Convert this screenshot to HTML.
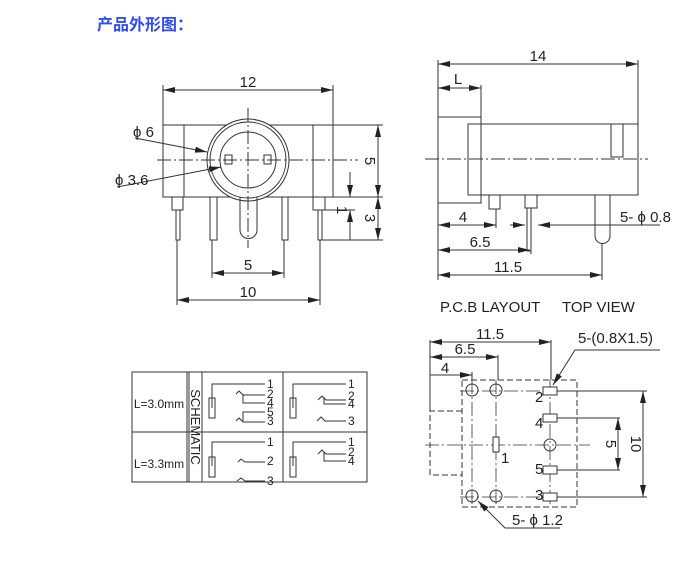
<!DOCTYPE html>
<html><head><meta charset="utf-8"><style>
body{margin:0;background:#fff;width:700px;height:572px;overflow:hidden}
svg{position:absolute;left:0;top:0}
text{font-family:"Liberation Sans",sans-serif;fill:#222}
</style></head><body>
<svg width="700" height="572" viewBox="0 0 700 572">
<defs>
<marker id="a" viewBox="0 0 12 6" refX="12" refY="3" markerWidth="12" markerHeight="6" markerUnits="userSpaceOnUse" orient="auto-start-reverse"><path d="M0,0L12,3L0,6z" fill="#222"/></marker>
</defs>
<text x="97" y="30" style="font-family:'Liberation Sans','Noto Sans CJK SC',sans-serif;font-size:16px;font-weight:bold;fill:#2f4cf0">产品外形图：</text>
<g stroke="#333" stroke-width="1" fill="none">
<rect x="163" y="125" width="170" height="72"/>
<line x1="184" y1="125" x2="184" y2="197"/><line x1="313" y1="125" x2="313" y2="197"/>
<circle cx="248" cy="160" r="41" fill="#fff"/><circle cx="248" cy="160" r="38"/><circle cx="248" cy="160" r="28"/>
<rect x="225" y="155" width="7" height="9"/><rect x="264" y="155" width="7" height="9"/>
<rect x="172" y="197" width="11" height="13"/><rect x="176" y="210" width="4" height="30"/>
<rect x="210" y="197" width="7" height="43"/><rect x="282" y="197" width="6" height="43"/>
<path d="M240,197V230a8.5,8.5 0 0 0 17,0V197"/>
<rect x="313" y="197" width="12" height="13"/><rect x="318" y="210" width="4" height="30"/>
<path d="M157,160H358M248,108V248" stroke-dasharray="14,3,2,3"/>
<path d="M163,125V85M333,125V85M333,125H383M333,197H383M322,240H383M325,210H355M212,240V278M284,240V278M177,240V305M320,240V305"/>
<line x1="163" y1="90" x2="333" y2="90" marker-start="url(#a)" marker-end="url(#a)"/>
<line x1="212" y1="273" x2="284" y2="273" marker-start="url(#a)" marker-end="url(#a)"/>
<line x1="177" y1="300" x2="320" y2="300" marker-start="url(#a)" marker-end="url(#a)"/>
<line x1="378" y1="125" x2="378" y2="197" marker-start="url(#a)" marker-end="url(#a)"/>
<line x1="378" y1="197" x2="378" y2="240" marker-start="url(#a)" marker-end="url(#a)"/>
<line x1="350" y1="172" x2="350" y2="197" marker-end="url(#a)"/>
<line x1="350" y1="240" x2="350" y2="210" marker-end="url(#a)"/>
<path d="M135,138L207,152" marker-end="url(#a)"/>
<path d="M117,187L221,167" marker-end="url(#a)"/>
<rect x="438" y="117" width="43" height="86"/>
<rect x="468" y="124" width="170" height="71" fill="#fff"/>
<line x1="481" y1="124" x2="481" y2="195"/>
<rect x="611" y="124" width="12" height="33"/>
<path d="M425,159H648" stroke-dasharray="14,3,2,3"/>
<rect x="489" y="195" width="11" height="14"/><rect x="525" y="195" width="12" height="13"/><rect x="527" y="208" width="4" height="43"/>
<path d="M595,195V236a7.5,7.5 0 0 0 15,0V195"/>
<path d="M438,60V280M481,85V117M638,60V124M496,209V228M531,251V254M602,243V280"/>
<line x1="438" y1="64" x2="638" y2="64" marker-start="url(#a)" marker-end="url(#a)"/>
<line x1="438" y1="88" x2="481" y2="88" marker-start="url(#a)" marker-end="url(#a)"/>
<line x1="438" y1="225" x2="496" y2="225" marker-start="url(#a)" marker-end="url(#a)"/>
<line x1="438" y1="250" x2="530" y2="250" marker-start="url(#a)" marker-end="url(#a)"/>
<line x1="438" y1="275" x2="602" y2="275" marker-start="url(#a)" marker-end="url(#a)"/>
<line x1="510" y1="225" x2="525" y2="225" marker-end="url(#a)"/>
<line x1="660" y1="225" x2="538" y2="225" marker-end="url(#a)"/>
<rect x="132" y="372" width="235" height="110"/>
<path d="M187,372V482M189,372V482M202,372V482M283,372V482M132,432H367"/>
<path d="M212,408V384H265M236,394l3,-3l4,4H265M243,394V403H265M236,421l3,-3l4,4H265M243,421V412H265"/>
<rect x="209" y="398" width="6" height="20"/>
<path d="M293,408V384H346M318,400l4,-4l4,4H346M324,397V404H346M317,421l4,-4l4,4H346"/>
<rect x="290" y="398" width="6" height="20"/>
<path d="M212,466V442H265M238,462l3,-3l4,3H265M237,481l4,-3l4,3H265"/>
<rect x="209" y="457" width="6" height="20"/>
<path d="M293,466V442H346M318,454l4,-4l4,4H346M324,452V461H346"/>
<rect x="290" y="457" width="6" height="20"/>
<rect x="462" y="380" width="115" height="127" stroke-dasharray="6,3"/>
<path d="M462,411H430V475H462" stroke-dasharray="6,3"/>
<path d="M425,445H590M460,391H560M460,497H560M472,380V507M496,380V507M550,380V507" stroke-dasharray="14,3,2,3" stroke-width="0.8"/>
<circle cx="472" cy="390" r="6"/><circle cx="496" cy="390" r="6"/><circle cx="472" cy="496" r="6"/><circle cx="496" cy="496" r="6"/><circle cx="550" cy="445" r="6"/>
<rect x="543" y="387" width="14" height="8" fill="#fff"/><rect x="543" y="414" width="14" height="8" fill="#fff"/><rect x="543" y="466" width="14" height="8" fill="#fff"/><rect x="543" y="493" width="14" height="8" fill="#fff"/>
<rect x="493" y="437" width="6" height="15" fill="#fff"/>
<path d="M430,340V411M498,355V380M472,372V380M551,340V380M557,391H647M557,497H647M557,418H620M557,470H620"/>
<line x1="430" y1="342" x2="551" y2="342" marker-start="url(#a)" marker-end="url(#a)"/>
<line x1="430" y1="357" x2="498" y2="357" marker-start="url(#a)" marker-end="url(#a)"/>
<line x1="430" y1="375" x2="472" y2="375" marker-end="url(#a)"/>
<line x1="643" y1="391" x2="643" y2="497" marker-start="url(#a)" marker-end="url(#a)"/>
<line x1="618" y1="418" x2="618" y2="470" marker-start="url(#a)" marker-end="url(#a)"/>
<path d="M660,350H575L553,385" marker-end="url(#a)"/>
<path d="M560,528H505L478,501" marker-end="url(#a)"/>
</g>
<g font-size="15">
<text x="248" y="87" text-anchor="middle">12</text>
<text x="248" y="270" text-anchor="middle">5</text>
<text x="248" y="297" text-anchor="middle">10</text>
<text x="133" y="137">ϕ 6</text>
<text x="115" y="185">ϕ 3.6</text>
<text transform="translate(365,161) rotate(90)" text-anchor="middle">5</text>
<text transform="translate(365,218) rotate(90)" text-anchor="middle">3</text>
<text transform="translate(337,210) rotate(90)" text-anchor="middle">1</text>
<text x="538" y="61" text-anchor="middle">14</text>
<text x="458" y="84" text-anchor="middle">L</text>
<text x="463" y="222" text-anchor="middle">4</text>
<text x="480" y="247" text-anchor="middle">6.5</text>
<text x="508" y="272" text-anchor="middle">11.5</text>
<text x="620" y="222">5- ϕ 0.8</text>
<text x="440" y="312">P.C.B LAYOUT</text>
<text x="562" y="312">TOP VIEW</text>
<text x="490" y="339" text-anchor="middle">11.5</text>
<text x="465" y="354" text-anchor="middle">6.5</text>
<text x="445" y="373" text-anchor="middle">4</text>
<text x="578" y="343">5-(0.8X1.5)</text>
<text x="512" y="525">5-  ϕ 1.2</text>
<text x="535" y="402">2</text><text x="535" y="428">4</text><text x="501" y="463">1</text><text x="535" y="474">5</text><text x="535" y="500">3</text>
<text transform="translate(606,444) rotate(90)" text-anchor="middle">5</text>
<text transform="translate(631,444) rotate(90)" text-anchor="middle">10</text>
</g>
<g font-size="12">
<text x="159" y="408" text-anchor="middle">L=3.0mm</text>
<text x="159" y="468" text-anchor="middle">L=3.3mm</text>
<text transform="translate(191,427) rotate(90)" text-anchor="middle" font-size="13">SCHEMATIC</text>
<text x="267" y="388">1</text><text x="267" y="398">2</text><text x="267" y="407">4</text><text x="267" y="416">5</text><text x="267" y="425">3</text>
<text x="348" y="388">1</text><text x="348" y="400">2</text><text x="348" y="408">4</text><text x="348" y="425">3</text>
<text x="267" y="446">1</text><text x="267" y="465">2</text><text x="267" y="485">3</text>
<text x="348" y="446">1</text><text x="348" y="456">2</text><text x="348" y="465">4</text>
</g>
</svg>
</body></html>
